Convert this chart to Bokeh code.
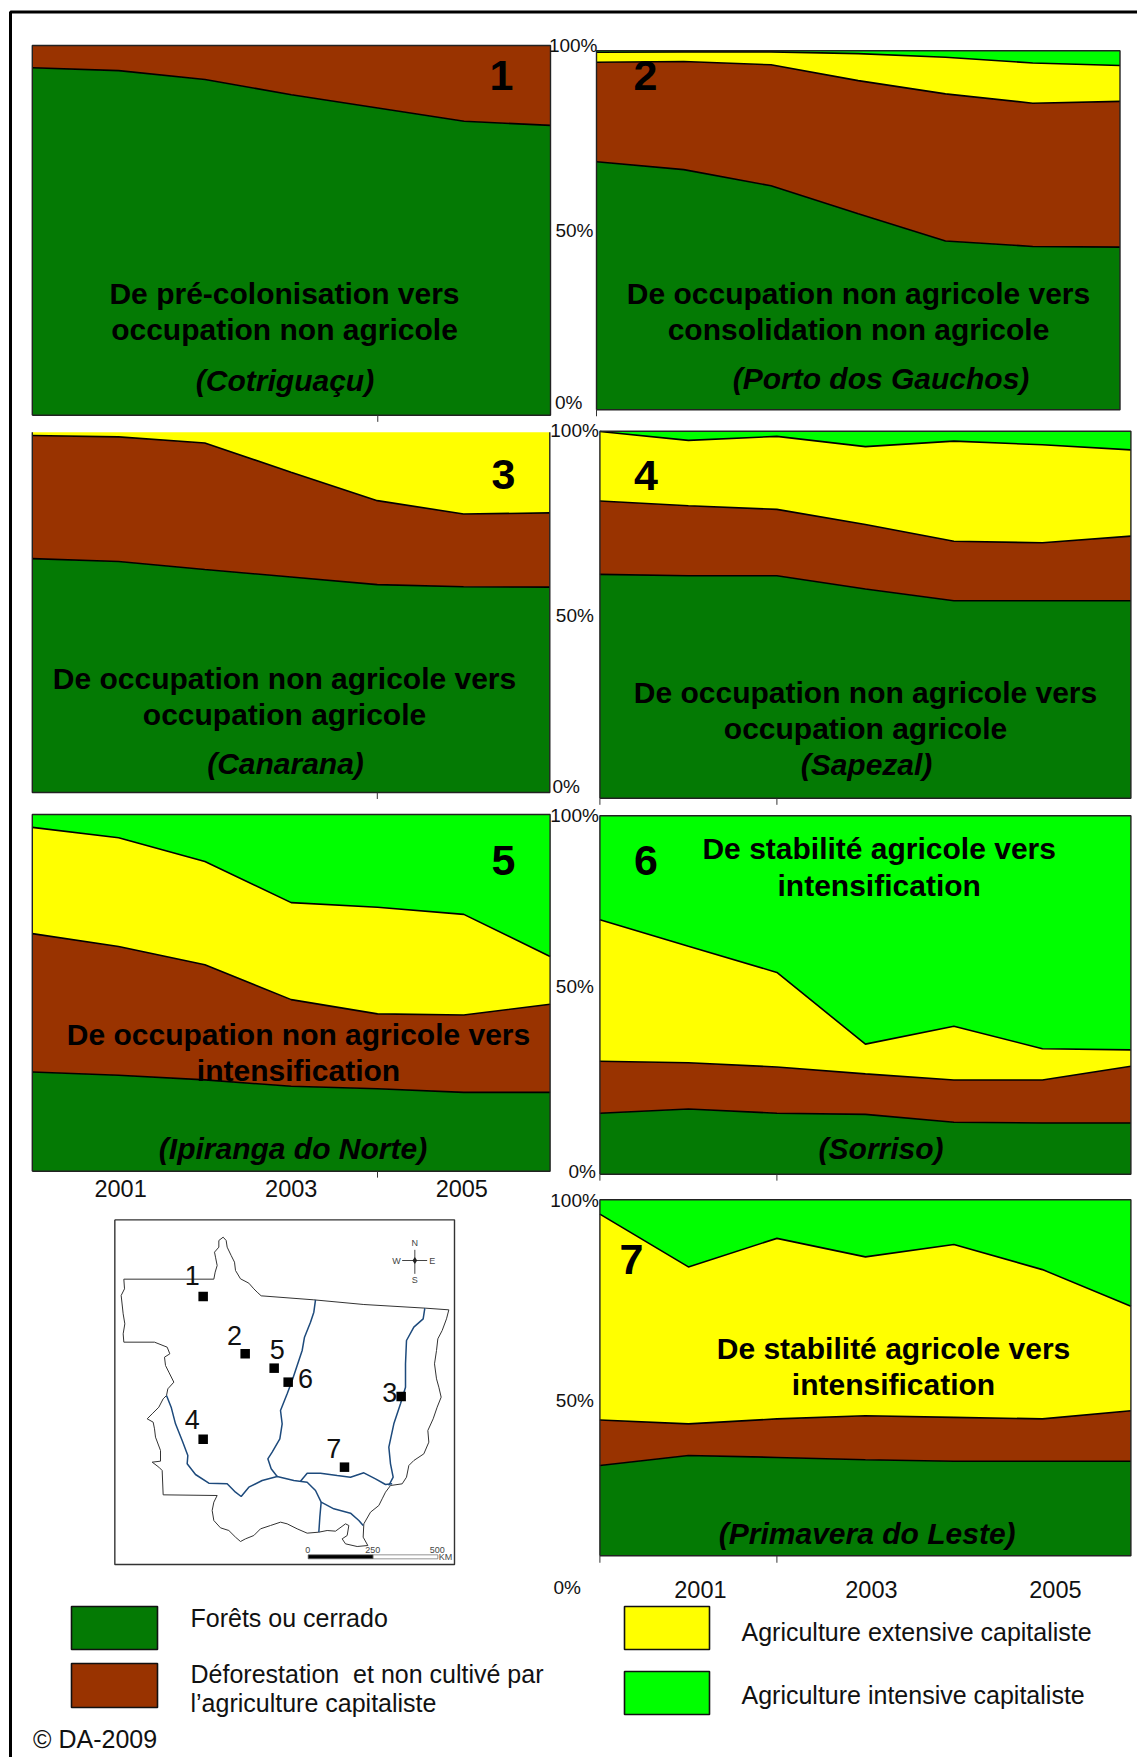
from bokeh.plotting import figure
from bokeh.models import Range1d
from bokeh.core.properties import value
from bokeh.embed import file_html
from bokeh.resources import INLINE

# ---------- data: cumulative upper boundary of each layer, in % ----------
years = [2000, 2001, 2002, 2003, 2004, 2005, 2006]
tick_years = [2001, 2003, 2005]

p1_forest = [94.0, 93.2, 90.8, 86.7, 83.1, 79.5, 78.4]

p2_forest = [69.1, 66.9, 62.4, 54.6, 47.0, 45.5, 45.3]
p2_defor = [96.8, 97.0, 96.1, 91.7, 88.0, 85.4, 85.9]
p2_ext = [99.6, 99.7, 99.7, 99.2, 98.2, 96.6, 95.9]

p3_forest = [64.9, 64.1, 61.9, 59.8, 57.7, 57.1, 57.0]
p3_defor = [99.1, 98.7, 97.0, 88.9, 81.0, 77.3, 77.6]

p4_forest = [61.0, 60.6, 60.6, 57.0, 53.8, 53.8, 53.8]
p4_defor = [81.0, 79.7, 78.7, 74.6, 70.0, 69.6, 71.4]
p4_ext = [99.9, 97.5, 98.6, 95.8, 97.3, 96.3, 94.9]

p5_forest = [27.8, 26.9, 25.6, 23.8, 23.1, 22.1, 22.1]
p5_defor = [66.6, 63.0, 57.9, 48.1, 44.1, 43.8, 46.8]
p5_ext = [96.4, 93.5, 86.8, 75.3, 74.0, 72.0, 60.2]

p6_forest = [17.0, 18.2, 17.0, 16.7, 14.5, 14.3, 14.3]
p6_defor = [31.5, 31.1, 29.9, 28.0, 26.3, 26.3, 30.1]
p6_ext = [71.0, 63.6, 56.3, 36.3, 41.3, 35.0, 34.7]

p7_forest = [31.1, 33.7, 33.2, 32.6, 32.2, 32.2, 32.2]
p7_defor = [42.9, 41.9, 43.2, 44.0, 43.6, 43.2, 45.3]
p7_ext = [96.3, 82.6, 90.0, 85.2, 88.4, 81.9, 72.4]

# ---------- texts ----------
pct_labels = ["100%", "50%", "0%"]
pct_values = [100, 50, 0]
year_labels = ["2001", "2003", "2005"]
legend_labels = ["Forêts ou cerrado", "Déforestation\u00a0 et non cultivé par", "l’agriculture capitaliste",
                 "Agriculture extensive capitaliste", "Agriculture intensive capitaliste"]
credit = "© DA-2009"

# ---------- map (units of a 1200 x 1200 map sheet) ----------
state_x = [130,400,404,410,405,402,415,415,428,437,440,452,462,465,480,505,520,530,542,700,850,1035,1105,1098,1085,1072,1068,1062,1068,1075,1082,1070,1058,1042,1045,1030,1000,985,978,965,930,915,905,895,870,850,848,862,830,795,785,800,805,795,765,740,715,680,650,620,600,570,540,520,495,480,465,445,420,400,395,400,410,248,245,235,215,240,240,225,222,218,200,215,235,248,258,262,280,265,255,252,268,260,222,130,128,133,128,122,132,130]
state_y = [266,266,245,225,200,185,170,150,140,150,170,195,215,240,265,278,295,305,316,328,342,353,358,385,420,445,480,520,565,590,620,650,685,720,755,790,810,825,860,880,885,905,925,945,965,1000,1040,1065,1068,1060,1045,1035,1005,1000,1022,1020,1025,1028,1015,1000,995,1005,1015,1035,1045,1053,1040,1020,1012,990,960,935,915,913,840,830,815,812,780,740,715,695,685,670,650,625,615,595,575,545,525,500,490,470,455,455,430,400,370,315,295,266]
river_a_x = [705,700,690,672,665,650,635,620,600,605,598,575,562,572,590]
river_a_y = [328,365,395,440,480,525,570,610,660,700,745,785,805,835,858]
river_b_x = [258,272,285,305,322,320,345,385,440,465,482,505,545,590,640,680,705,722,760,810,835,848]
river_b_y = [615,650,700,750,795,820,852,878,880,905,918,890,870,858,870,875,900,935,955,968,990,1005]
river_c_x = [660,680,720,770,810,850,885,915,935]
river_c_y = [872,848,848,855,860,847,865,882,880]
river_d_x = [1033,1028,1000,978,975,975,960,940,925,930,938,925]
river_d_y = [353,385,410,450,520,590,640,700,770,820,860,885]
river_e_x = [722,718,715]
river_e_y = [935,980,1025]
site_ids = ["1", "2", "5", "6", "3", "4", "7"]
site_x = [368, 494, 581, 623, 962, 368, 792]
site_y = [318, 490, 533, 575, 618, 746, 830]
site_label_x = [335, 462, 590, 675, 928, 335, 760]
site_label_y = [255, 435, 478, 565, 607, 687, 775]

# ---------- colours ----------
C_FOREST = "#047a04"
C_DEFOR = "#993300"
C_EXT = "#ffff00"
C_INT = "#00ff00"
FONT = value("Liberation Sans")

p = figure(width=1137, height=1757, x_range=Range1d(0, 1137), y_range=Range1d(1757, 0),
           toolbar_location=None, output_backend="svg", min_border=0,
           x_axis_location=None, y_axis_location=None, outline_line_color=None)
p.grid.visible = False


def label(x, y, txt, size, style="normal", align="center", color="#000000"):
    p.text(x=[x], y=[y], text=[txt], text_font=FONT, text_font_size=f"{size}px",
           text_font_style=style, text_align=align, text_baseline="middle", text_color=color)


# outer frame
p.line([10, 10, 1137], [1757, 11.5, 11.5], line_color="black", line_width=3)


def panel(rect, layers, ticks, floor=0.0, open_top=False):
    left, right, ytop, y0 = rect
    sub = p.subplot(x_source=Range1d(2000, 2006), y_source=Range1d(0, 100),
                    x_target=Range1d(left, right), y_target=Range1d(y0, ytop))
    fills = [C_FOREST, C_DEFOR, C_EXT, C_INT]
    lower = [floor] * len(years)
    for i, layer in enumerate(layers + [[100] * len(years)]):
        sub.varea(x=years, y1=lower, y2=layer, fill_color=fills[i])
        lower = layer
    for layer in layers:
        sub.line(x=years, y=layer, line_color="#000000", line_width=1.6)
    if open_top:
        sub.line(x=[2000, 2000, 2006, 2006], y=[100, floor, floor, 100], line_color="#222222", line_width=1.4)
    else:
        sub.line(x=[2000, 2000, 2006, 2006, 2000], y=[floor, 100, 100, floor, floor],
                 line_color="#222222", line_width=1.4)
    for tx in ticks:
        sub.line(x=[tx, tx], y=[floor, floor - 1.8], line_color="#333333", line_width=1)
    return sub


def pct_axis(sub, dys, xoffs):
    sub.text(x=[2000] * 3, y=pct_values, text=pct_labels, x_offset=xoffs, y_offset=dys,
             text_font=FONT, text_font_size="19px", text_align="right", text_baseline="middle",
             text_color="#111111")


panels = [
    (1, (31.8, 550, 45, 414.7), [p1_forest], [2004], 0.0, False),
    (2, (596, 1119.5, 50.3, 409.3), [p2_forest, p2_defor, p2_ext], [2000], 0.0, False),
    (3, (31.8, 549.3, 431.7, 792), [p3_forest, p3_defor], [2004], 0.0, True),
    (4, (599.4, 1130.4, 430.7, 797.7), [p4_forest, p4_defor, p4_ext], [2000, 2002], 0.0, False),
    (5, (31.8, 549.6, 814, 1170.7), [p5_forest, p5_defor, p5_ext], [2004], 0.0, False),
    (6, (599.4, 1130.4, 815.3, 1173.7), [p6_forest, p6_defor, p6_ext], [2000, 2002], 0.0, False),
    (7, (599.4, 1130.4, 1199.3, 1585), [p7_forest, p7_defor, p7_ext], [2000, 2002], 7.7, False),
]
subs = {}
for num, rect, layers, ticks, floor, open_top in panels:
    subs[num] = panel(rect, layers, ticks, floor, open_top)

pct_axis(subs[2], [-5, 0, -7], [1, -3, -14])
pct_axis(subs[4], [-1, 1, -12], [-1, -6, -20])
pct_axis(subs[6], [0, -9, -3], [-1, -6, -4])
pct_axis(subs[7], [1, 8, 2], [-1, -6, -19])

subs[5].text(x=tick_years, y=[0] * 3, text=year_labels, x_offset=[2, 0, -2], y_offset=[17, 17, 17],
             text_font=FONT, text_font_size="23.5px", text_align="center", text_baseline="middle",
             text_color="#111111")
subs[7].text(x=tick_years, y=[0] * 3, text=year_labels, x_offset=[12, 6, 13], y_offset=[4, 4, 4],
             text_font=FONT, text_font_size="23.5px", text_align="center", text_baseline="middle",
             text_color="#111111")

# panel titles
TS = 30
titles = [
    ("De pré-colonisation vers", 284, 293), ("occupation non agricole", 284, 328.5),
    ("De occupation non agricole vers", 858, 293), ("consolidation non agricole", 858, 328.5),
    ("De occupation non agricole vers", 284, 678), ("occupation agricole", 284, 714),
    ("De occupation non agricole vers", 865, 692), ("occupation agricole", 865, 728),
    ("De occupation non agricole vers", 298, 1033.5), ("intensification", 298, 1069.5),
    ("De stabilité agricole vers", 878.7, 848), ("intensification", 878.7, 884.5),
    ("De stabilité agricole vers", 893, 1348), ("intensification", 893, 1384),
]
for t, x, y in titles:
    label(x, y, t, TS, "bold")
places = [
    ("(Cotriguaçu)", 284.5, 379.5), ("(Porto dos Gauchos)", 880.5, 378), ("(Canarana)", 285, 763),
    ("(Sapezal)", 866, 763.5), ("(Ipiranga do Norte)", 292.5, 1148), ("(Sorriso)", 880.6, 1148),
    ("(Primavera do Leste)", 866.7, 1533),
]
for t, x, y in places:
    label(x, y, t, TS, "bold italic")
for n, x, y in [("1", 501, 75), ("2", 645, 75), ("3", 503, 474), ("4", 645.4, 475), ("5", 503, 860),
                ("6", 645.4, 860), ("7", 631, 1259)]:
    label(x, y, n, 43, "bold")

# map
m = p.subplot(x_source=Range1d(0, 1200), y_source=Range1d(0, 1200),
              x_target=Range1d(80, 480), y_target=Range1d(1190, 1590))
m.line(x=[103, 1122, 1122, 103, 103], y=[88, 88, 1122, 1122, 88], line_color="#333333", line_width=1.4)
m.line(x=state_x, y=state_y, line_color="#333333", line_width=1)
for rx, ry in [(river_a_x, river_a_y), (river_b_x, river_b_y), (river_c_x, river_c_y),
               (river_d_x, river_d_y), (river_e_x, river_e_y)]:
    m.line(x=rx, y=ry, line_color="#1d4a7c", line_width=1.5)
m.scatter(x=site_x, y=site_y, size=9.5, marker="square", fill_color="black", line_color=None)
m.text(x=site_label_x, y=site_label_y, text=site_ids, text_font=FONT, text_font_size="27px",
       text_align="center", text_baseline="middle", text_color="#111111")
# compass
m.line(x=[965, 1040], y=[210, 210], line_color="#444444", line_width=1)
m.line(x=[1003, 1003], y=[178, 250], line_color="#444444", line_width=1)
m.scatter(x=[1003], y=[210], size=7, marker="diamond", fill_color="#222222", line_color=None)
m.text(x=[1003, 1003, 948, 1055], y=[158, 267, 211, 211], text=["N", "S", "W", "E"], text_font=FONT,
       text_font_size="9px", text_align="center", text_baseline="middle", text_color="#444444")
# scale bar
m.quad(left=[683, 878], right=[878, 1072], top=[1093, 1093], bottom=[1105, 1105],
       fill_color=["black", "white"], line_color="#666666", line_width=0.7)
m.text(x=[682, 877, 1070, 1095], y=[1077, 1077, 1077, 1098], text=["0", "250", "500", "KM"], text_font=FONT,
       text_font_size="9px", text_align="center", text_baseline="middle", text_color="#444444")

# legend
for (l, r, t, b, c) in [(71, 157, 1606, 1649, C_FOREST), (71, 157, 1663, 1707, C_DEFOR),
                        (624, 709, 1606, 1649, C_EXT), (624, 709, 1671, 1714, C_INT)]:
    p.quad(left=[l], right=[r], top=[t], bottom=[b], fill_color=c, line_color="#111111", line_width=1.6)
LS = 25
label(190, 1617, legend_labels[0], LS, align="left", color="#111111")
label(190, 1673, legend_labels[1], LS, align="left", color="#111111")
label(190, 1702, legend_labels[2], LS, align="left", color="#111111")
label(741, 1631, legend_labels[3], LS, align="left", color="#111111")
label(741, 1694, legend_labels[4], LS, align="left", color="#111111")
label(32.6, 1738, credit, LS, align="left", color="#111111")

open("out.html", "w").write(file_html(p, INLINE))
